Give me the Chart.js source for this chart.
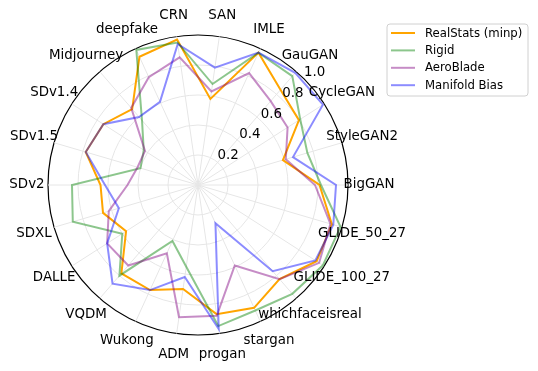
<!DOCTYPE html>
<html><head><meta charset="utf-8">
<script src="https://cdn.jsdelivr.net/npm/chart.js@4"></script>
<style>html,body{margin:0;padding:0;background:#fff;}#wrap{width:538px;height:371px;position:relative;}</style>
</head><body><div id="wrap"><canvas id="c" width="538" height="371"></canvas></div>
<script>
// categories in clockwise order starting from the right (east)
const categories = ['BigGAN','GLIDE_50_27','GLIDE_100_27','whichfaceisreal','stargan','progan','ADM','Wukong','VQDM','DALLE','SDXL','SDv2','SDv1.5','SDv1.4','Midjourney','deepfake','CRN','SAN','IMLE','GauGAN','CycleGAN','StyleGAN2'];
const seriesNames = ['RealStats (minp)','Rigid','AeroBlade','Manifold Bias'];
const realStats = [0.81,0.93,0.94,0.83,0.90,0.87,0.70,0.77,0.78,0.57,0.66,0.65,0.78,0.75,0.67,0.94,0.98,0.58,0.97,0.84,0.80,0.59];
const rigid     = [0.82,0.99,0.99,0.96,0.92,0.95,0.55,0.41,0.80,0.60,0.87,0.84,0.40,0.43,0.57,0.99,0.96,0.68,0.97,0.96,0.81,0.76];
const aeroBlade = [0.78,0.92,0.96,0.83,0.59,0.88,0.89,0.50,0.71,0.72,0.62,0.47,0.42,0.42,0.68,0.79,0.86,0.63,0.82,0.74,0.71,0.61];
const manifold  = [0.92,0.94,0.93,0.76,0.28,0.97,0.62,0.77,0.87,0.72,0.55,0.62,0.78,0.75,0.60,0.61,0.95,0.79,0.97,0.99,0.99,0.66];
const tickValues = [0.2,0.4,0.6,0.8,1.0];
const tickLabels = ['0.2','0.4','0.6','0.8','1.0'];

const colors = ['rgb(255,165,0)','rgba(0,128,0,0.45)','rgba(128,0,128,0.45)','rgba(0,0,255,0.45)'];
const seriesData = [realStats, rigid, aeroBlade, manifold];
const FONT = '"DejaVu Sans", sans-serif';

const labelPlugin = {
  id: 'labelPlugin',
  afterDraw(chart) {
    const ctx = chart.ctx;
    const s = chart.scales.r;
    ctx.save();
    ctx.fillStyle = '#000';
    ctx.font = '13.4px ' + FONT;
    ctx.textAlign = 'center';
    ctx.textBaseline = 'middle';
    // category labels
    categories.forEach((lab, i) => {
      const p = s.getPointPosition(i, s.drawingArea + 21);
      ctx.fillText(lab, p.x, p.y);
    });
    // radial tick labels
    const ang = 44 * Math.PI / 180;
    tickValues.forEach((v, i) => {
      const d = s.getDistanceFromCenterForValue(v) + 12;
      ctx.fillText(tickLabels[i], s.xCenter + d * Math.cos(ang), s.yCenter - d * Math.sin(ang));
    });
    // legend
    const bx = 387, by = 24, bw = 141, bh = 72, r = 3;
    ctx.beginPath();
    ctx.moveTo(bx + r, by);
    ctx.arcTo(bx + bw, by, bx + bw, by + bh, r);
    ctx.arcTo(bx + bw, by + bh, bx, by + bh, r);
    ctx.arcTo(bx, by + bh, bx, by, r);
    ctx.arcTo(bx, by, bx + bw, by, r);
    ctx.closePath();
    ctx.fillStyle = 'rgba(255,255,255,0.8)';
    ctx.fill();
    ctx.strokeStyle = '#d0d0d0';
    ctx.lineWidth = 1;
    ctx.stroke();
    ctx.font = '11.7px ' + FONT;
    ctx.textAlign = 'left';
    chart.data.datasets.forEach((ds, i) => {
      const y = 33 + i * 17.4;
      ctx.strokeStyle = ds.borderColor;
      ctx.lineWidth = 2;
      ctx.beginPath();
      ctx.moveTo(391, y);
      ctx.lineTo(415, y);
      ctx.stroke();
      ctx.fillStyle = '#000';
      ctx.fillText(ds.label, 425, y + 0.5);
    });
    ctx.restore();
  }
};

new Chart(document.getElementById('c'), {
  type: 'radar',
  data: {
    labels: categories,
    datasets: seriesNames.map((n, i) => ({
      label: n,
      data: seriesData[i],
      borderColor: colors[i],
      backgroundColor: 'transparent',
      borderWidth: 2,
      fill: false,
      pointRadius: 0,
      tension: 0,
      order: 3 - i
    }))
  },
  options: {
    responsive: false,
    animation: false,
    layout: { padding: { left: 48, top: 35, right: 190, bottom: 36 } },
    plugins: { legend: { display: false }, tooltip: { enabled: false } },
    scales: {
      r: {
        min: 0, max: 1,
        startAngle: 90,
        ticks: { display: false, stepSize: 0.2 },
        pointLabels: { display: false },
        grid: {
          circular: true,
          color: (c) => (c.tick && c.tick.value >= 1 ? '#000' : '#e6e6e6'),
          lineWidth: (c) => (c.tick && c.tick.value >= 1 ? 1.2 : 1)
        },
        angleLines: { color: '#e6e6e6', lineWidth: 1 }
      }
    }
  },
  plugins: [labelPlugin]
});
</script>
</body></html>
